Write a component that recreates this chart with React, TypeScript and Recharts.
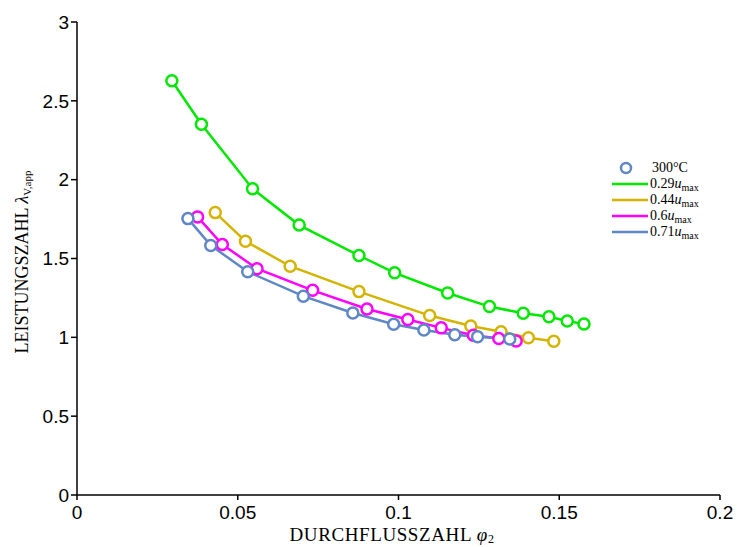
import { LineChart, Line, XAxis, YAxis } from 'recharts';

const xTicks = [0, 0.05, 0.1, 0.15, 0.2];
const yTicks = [0, 0.5, 1, 1.5, 2, 2.5, 3];

// 0.29 u_max
const phiA = [0.0295, 0.0387, 0.0546, 0.0691, 0.0877, 0.0988, 0.1153, 0.1283, 0.1388, 0.1468, 0.1525, 0.1577];
const lamA = [2.627, 2.352, 1.943, 1.712, 1.519, 1.409, 1.281, 1.195, 1.153, 1.13, 1.104, 1.085];
// 0.44 u_max
const phiB = [0.043, 0.0524, 0.0663, 0.0877, 0.1097, 0.1225, 0.1319, 0.1404, 0.1483];
const lamB = [1.791, 1.61, 1.451, 1.29, 1.138, 1.072, 1.036, 0.998, 0.975];
// 0.6 u_max
const phiC = [0.0375, 0.0452, 0.056, 0.0733, 0.0902, 0.1029, 0.1133, 0.1233, 0.1312, 0.1366];
const lamC = [1.764, 1.589, 1.435, 1.298, 1.18, 1.113, 1.06, 1.013, 0.992, 0.977];
// 0.71 u_max
const phiD = [0.0345, 0.0416, 0.0531, 0.0704, 0.0858, 0.0985, 0.1079, 0.1175, 0.1246, 0.1346];
const lamD = [1.753, 1.583, 1.416, 1.261, 1.154, 1.083, 1.047, 1.017, 1.004, 0.99];

const series = [
  { name: '0.29', color: '#00e800', phi: phiA, lam: lamA },
  { name: '0.44', color: '#d4b400', phi: phiB, lam: lamB },
  { name: '0.6', color: '#ff00ff', phi: phiC, lam: lamC },
  { name: '0.71', color: '#5f87c6', phi: phiD, lam: lamD },
];

const toPoints = (xs: number[], ys: number[]) => xs.map((x, i) => ({ x, y: ys[i] }));

const serif = '"Liberation Serif", "DejaVu Serif", serif';
const sans = '"Liberation Sans", Arial, sans-serif';

function LegendBox() {
  const row = { display: 'flex', alignItems: 'center', height: 16 } as const;
  return (
    <div
      style={{
        position: 'absolute',
        left: 612,
        top: 160,
        fontFamily: serif,
        fontSize: 14,
        color: '#000',
        lineHeight: '16px',
        whiteSpace: 'nowrap',
      }}
    >
      <div style={row}>
        <svg width={36} height={16}>
          <circle cx={14} cy={8} r={5} fill="#fff" stroke="#5f87c6" strokeWidth={2.5} />
        </svg>
        <span style={{ marginLeft: 4 }}>300°C</span>
      </div>
      {series.map((s) => (
        <div key={s.name} style={row}>
          <svg width={36} height={16}>
            <line x1={0} x2={36} y1={8} y2={8} stroke={s.color} strokeWidth={2.5} />
          </svg>
          <span style={{ marginLeft: 2 }}>
            {s.name}
            <i>u</i>
            <span style={{ fontSize: 10, position: 'relative', top: 3 }}>max</span>
          </span>
        </div>
      ))}
    </div>
  );
}

export default function App() {
  return (
    <div style={{ position: 'absolute', left: 0, top: 0, width: 737, height: 547, background: '#fff' }}>
      <LineChart width={737} height={547} margin={{ top: 22, right: 17, left: 0, bottom: 0 }}>
        <XAxis
          type="number"
          dataKey="x"
          domain={[0, 0.2]}
          ticks={xTicks}
          tickFormatter={(v: number) => String(v)}
          stroke="#000"
          strokeWidth={1.5}
          tickSize={5}
          tickMargin={6}
          height={52}
          tick={{ fill: '#000', fontSize: 19, fontFamily: sans }}
          allowDataOverflow
        />
        <YAxis
          type="number"
          dataKey="y"
          domain={[0, 3]}
          ticks={yTicks}
          stroke="#000"
          strokeWidth={1.5}
          tickSize={6}
          tickMargin={2}
          width={77}
          tick={{ fill: '#000', fontSize: 19, fontFamily: sans }}
        />
        {series.map((s) => (
          <Line
            key={s.name}
            data={toPoints(s.phi, s.lam)}
            dataKey="y"
            type="linear"
            stroke={s.color}
            strokeWidth={2.5}
            dot={{ r: 5.5, fill: '#fff', stroke: s.color, strokeWidth: 2.5 }}
            activeDot={false}
            isAnimationActive={false}
          />
        ))}
        <text x={392} y={541} textAnchor="middle" fontFamily={serif} fontSize={19} letterSpacing={0.6} fill="#000">
          DURCHFLUSSZAHL <tspan fontStyle="italic">φ</tspan>
          <tspan fontSize={12} dy={2}>2</tspan>
        </text>
        <text
          x={0}
          y={0}
          transform="translate(28, 262) rotate(-90)"
          textAnchor="middle"
          fontFamily={serif}
          fontSize={18}
          fill="#000"
        >
          LEISTUNGSZAHL <tspan fontStyle="italic">λ</tspan>
          <tspan fontSize={11} dy={3}>V,app</tspan>
        </text>
      </LineChart>
      <LegendBox />
    </div>
  );
}
